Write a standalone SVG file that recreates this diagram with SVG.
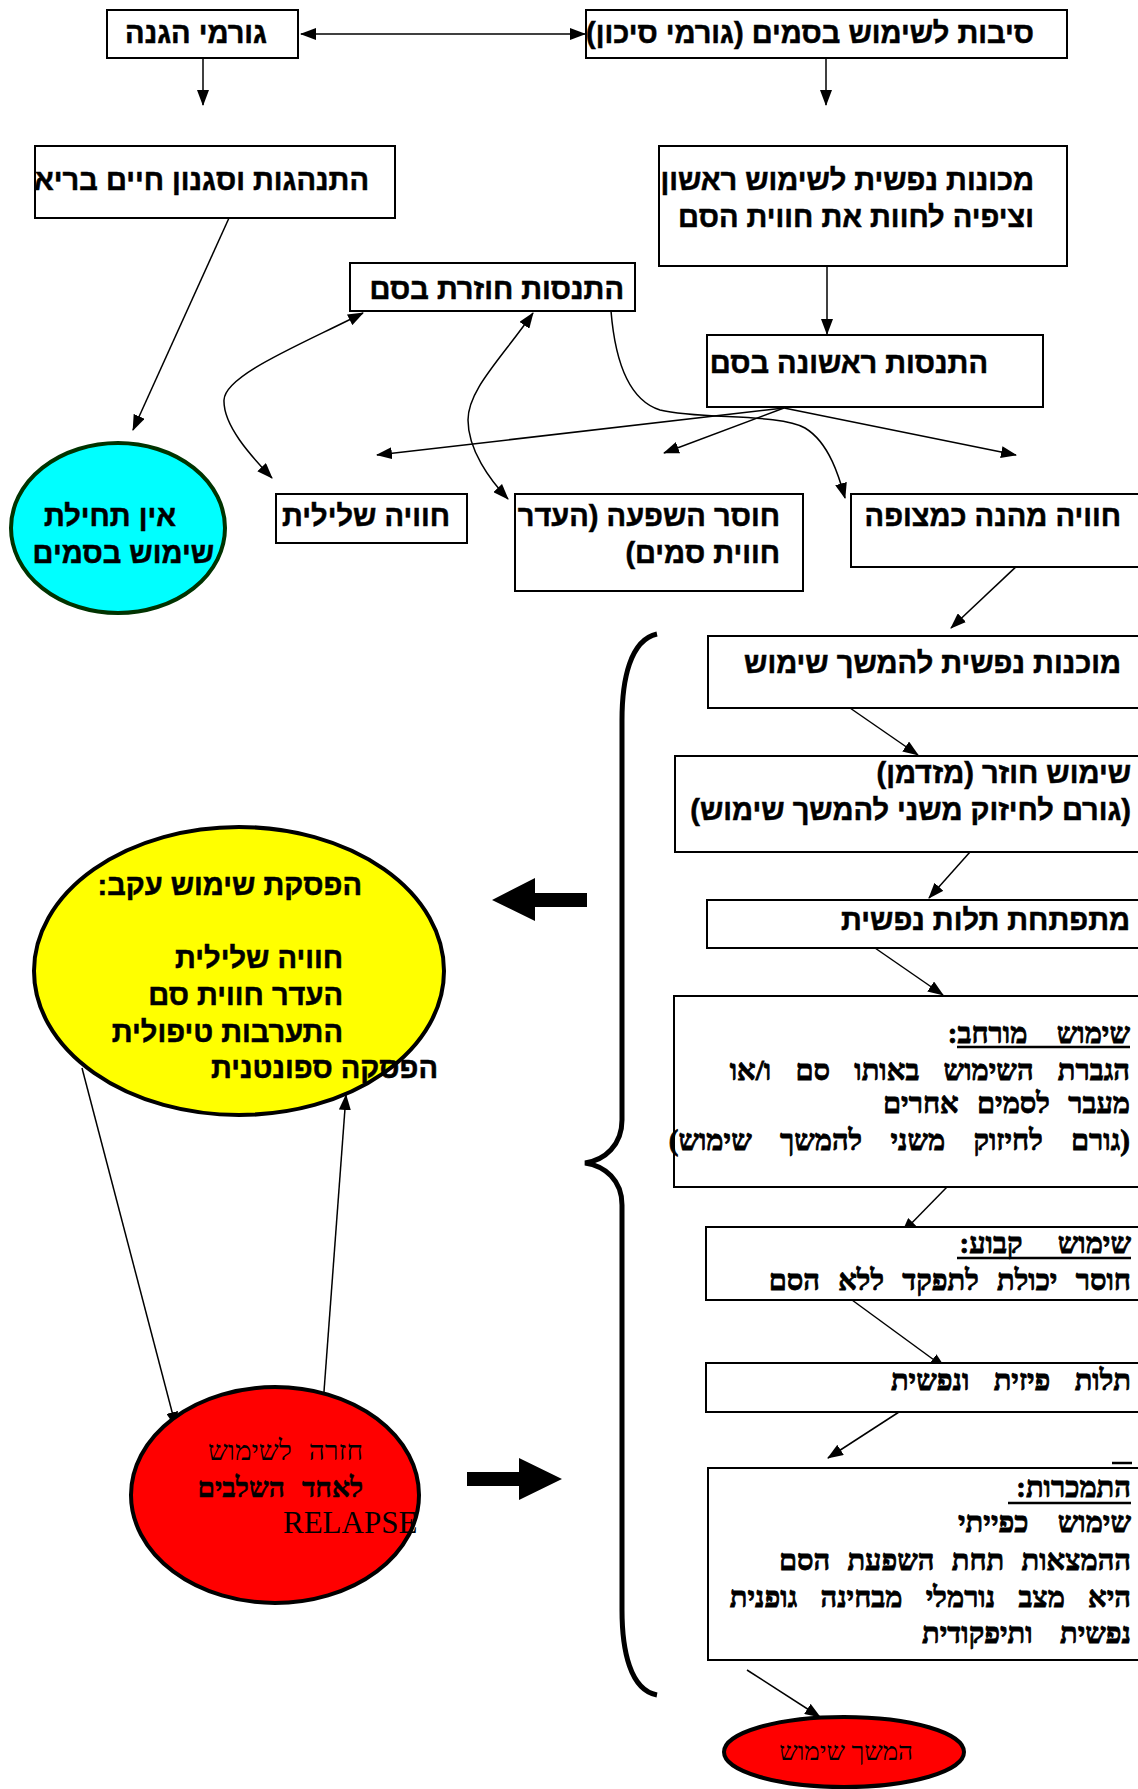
<svg xmlns="http://www.w3.org/2000/svg" width="1138" height="1789" viewBox="0 0 1138 1789">
<style>
.box{fill:#fff;stroke:#000;stroke-width:2}
.t{font-family:"Liberation Sans",Arial,sans-serif;font-weight:bold;font-size:29px;fill:#000;stroke:#000;stroke-width:0.5}
.s{font-family:"Liberation Serif","Times New Roman",serif;font-weight:bold;font-size:29px;fill:#000;stroke:#000;stroke-width:0.8}
.sr{font-family:"Liberation Serif","Times New Roman",serif;font-size:28px;fill:#000;word-spacing:10px}
.c{fill:none;stroke:#000;stroke-width:1.5}
.u{stroke:#000;stroke-width:2.5}
</style>
<defs>
<marker id="ah" markerUnits="userSpaceOnUse" markerWidth="16" markerHeight="12" refX="15" refY="6" orient="auto-start-reverse">
<path d="M0,0 L16,6 L0,12 z" fill="#000"/>
</marker>
</defs>
<rect width="1138" height="1789" fill="#fff"/>

<g id="connectors">
<line class="c" x1="301" y1="34" x2="585" y2="34" marker-start="url(#ah)" marker-end="url(#ah)"/>
<line class="c" x1="203" y1="58" x2="203" y2="105" marker-end="url(#ah)"/>
<line class="c" x1="826" y1="58" x2="826" y2="105" marker-end="url(#ah)"/>
<line class="c" x1="229" y1="218" x2="133" y2="430" marker-end="url(#ah)"/>
<line class="c" x1="827" y1="266" x2="827" y2="334" marker-end="url(#ah)"/>
<line class="c" x1="784" y1="408" x2="377" y2="455" marker-end="url(#ah)"/>
<line class="c" x1="784" y1="408" x2="664" y2="453" marker-end="url(#ah)"/>
<line class="c" x1="784" y1="408" x2="1016" y2="455" marker-end="url(#ah)"/>
<path class="c" d="M363,313 C300,345 225,375 224,400 C223,425 250,455 272,478" marker-start="url(#ah)" marker-end="url(#ah)"/>
<path class="c" d="M533,313 C500,360 468,390 468,420 C468,450 490,480 508,499" marker-start="url(#ah)" marker-end="url(#ah)"/>
<path class="c" d="M611,311 C615,360 628,400 660,410 C700,420 780,413 805,428 C830,443 840,480 845,498" marker-end="url(#ah)"/>
<line class="c" x1="1020" y1="563" x2="951" y2="628" marker-end="url(#ah)"/>
<line class="c" x1="850" y1="708" x2="918" y2="755" marker-end="url(#ah)"/>
<line class="c" x1="970" y1="852" x2="929" y2="898" marker-end="url(#ah)"/>
<line class="c" x1="875" y1="948" x2="943" y2="995" marker-end="url(#ah)"/>
<line class="c" x1="947" y1="1187" x2="902" y2="1233" marker-end="url(#ah)"/>
<line class="c" x1="852" y1="1300" x2="945" y2="1368" marker-end="url(#ah)"/>
<line class="c" x1="899" y1="1412" x2="828" y2="1458" marker-end="url(#ah)"/>
<line class="c" x1="747" y1="1670" x2="820" y2="1717" marker-end="url(#ah)"/>
<line class="c" x1="82" y1="1068" x2="176" y2="1427" marker-end="url(#ah)"/>
<line class="c" x1="323" y1="1405" x2="346" y2="1095" marker-end="url(#ah)"/>
<polygon points="492,900 535,878 535,893 587,893 587,907 535,907 535,921" fill="#000"/>
<polygon points="467,1472 519,1472 519,1458 562,1479 519,1500 519,1486 467,1486" fill="#000"/>
<path d="M657,634 C630,640 622,680 622,720 L622,1120 C622,1145 605,1160 585,1163 C605,1166 622,1180 622,1205 L622,1610 C622,1650 630,1690 657,1695" fill="none" stroke="#000" stroke-width="5"/>
</g>

<g id="n-protect">
<rect class="box" x="107" y="10" width="191" height="48"/>
<text class="t" x="267" y="43" direction="rtl" text-anchor="start">גורמי הגנה</text>
</g>
<g id="n-risk">
<rect class="box" x="586" y="10" width="481" height="48"/>
<text class="t" x="1034" y="43" direction="rtl" text-anchor="start">סיבות לשימוש בסמים (גורמי סיכון)</text>
</g>
<g id="n-healthy">
<rect class="box" x="35" y="146" width="360" height="72"/>
<text class="t" x="369" y="190" direction="rtl" text-anchor="start">התנהגות וסגנון חיים בריא</text>
</g>
<g id="n-readiness">
<rect class="box" x="659" y="146" width="408" height="120"/>
<text class="t" x="1034" y="190" direction="rtl" text-anchor="start">מכונות נפשית לשימוש ראשון</text>
<text class="t" x="1034" y="227" direction="rtl" text-anchor="start">וציפיה לחוות את חווית הסם</text>
</g>
<g id="n-repeat">
<rect class="box" x="350" y="263" width="285" height="48"/>
<text class="t" x="624" y="299" direction="rtl" text-anchor="start">התנסות חוזרת בסם</text>
</g>
<g id="n-first">
<rect class="box" x="707" y="335" width="336" height="72"/>
<text class="t" x="988" y="373" direction="rtl" text-anchor="start">התנסות ראשונה בסם</text>
</g>
<g id="n-negative">
<rect class="box" x="276" y="494" width="191" height="49"/>
<text class="t" x="450" y="526" direction="rtl" text-anchor="start">חוויה שלילית</text>
</g>
<g id="n-noeffect">
<rect class="box" x="515" y="494" width="288" height="97"/>
<text class="t" x="780" y="526" direction="rtl" text-anchor="start">חוסר השפעה (העדר</text>
<text class="t" x="780" y="563" direction="rtl" text-anchor="start">חווית סמים)</text>
</g>
<g id="n-pleasant">
<rect class="box" x="851" y="494" width="300" height="73"/>
<text class="t" x="1121" y="526" direction="rtl" text-anchor="start">חוויה מהנה כמצופה</text>
</g>
<g id="n-nostart">
<ellipse cx="118" cy="528" rx="107" ry="85" fill="#00ffff" stroke="#003300" stroke-width="4"/>
<text class="t" x="176" y="526" direction="rtl" text-anchor="start">אין תחילת</text>
<text class="t" x="214" y="563" direction="rtl" text-anchor="start">שימוש בסמים</text>
</g>
<g id="n-continue-ready">
<rect class="box" x="708" y="636" width="440" height="72"/>
<text class="t" x="1121" y="673" direction="rtl" text-anchor="start">מוכנות נפשית להמשך שימוש</text>
</g>
<g id="n-occasional">
<rect class="box" x="675" y="756" width="473" height="96"/>
<text class="t" x="1131" y="783" direction="rtl" text-anchor="start">שימוש חוזר (מזדמן)</text>
<text class="t" x="1131" y="820" direction="rtl" text-anchor="start">(גורם לחיזוק משני להמשך שימוש)</text>
</g>
<g id="n-psych">
<rect class="box" x="707" y="900" width="441" height="48"/>
<text class="t" x="1130" y="930" direction="rtl" text-anchor="start">מתפתחת תלות נפשית</text>
</g>
<g id="n-extended">
<rect class="box" x="674" y="996" width="474" height="191"/>
<text class="s" x="1130" y="1043" direction="rtl" text-anchor="start" word-spacing="22">שימוש מורחב:</text>
<line class="u" x1="957" y1="1047" x2="1130" y2="1047"/>
<text class="s" x="1130" y="1080" direction="rtl" text-anchor="start" word-spacing="17">הגברת השימוש באותו סם ו/או</text>
<text class="s" x="1130" y="1113" direction="rtl" text-anchor="start" word-spacing="11">מעבר לסמים אחרים</text>
<text class="s" x="1130" y="1150" direction="rtl" text-anchor="start" word-spacing="21">(גורם לחיזוק משני להמשך שימוש)</text>
</g>
<g id="n-regular">
<rect class="box" x="706" y="1227" width="442" height="73"/>
<text class="s" x="1131" y="1253" direction="rtl" text-anchor="start" word-spacing="28">שימוש קבוע:</text>
<line class="u" x1="957" y1="1258" x2="1131" y2="1258"/>
<text class="s" x="1131" y="1290" direction="rtl" text-anchor="start" word-spacing="11">חוסר יכולת לתפקד ללא הסם</text>
</g>
<g id="n-physical">
<rect class="box" x="706" y="1363" width="442" height="49"/>
<text class="s" x="1131" y="1390" direction="rtl" text-anchor="start" word-spacing="17">תלות פיזית ונפשית</text>
</g>
<g id="n-addiction">
<line class="u" x1="1112" y1="1463" x2="1132" y2="1463"/>
<rect class="box" x="708" y="1468" width="440" height="192"/>
<text class="s" x="1131" y="1497" direction="rtl" text-anchor="start">התמכרות:</text>
<line class="u" x1="1008" y1="1503" x2="1131" y2="1503"/>
<text class="s" x="1131" y="1532" direction="rtl" text-anchor="start" word-spacing="22">שימוש כפייתי</text>
<text class="s" x="1131" y="1570" direction="rtl" text-anchor="start" word-spacing="10">ההמצאות תחת השפעת הסם</text>
<text class="s" x="1131" y="1607" direction="rtl" text-anchor="start" word-spacing="16">היא מצב נורמלי מבחינה גופנית</text>
<text class="s" x="1131" y="1643" direction="rtl" text-anchor="start" word-spacing="20">נפשית ותיפקודית</text>
</g>
<g id="n-stop">
<ellipse cx="239" cy="971" rx="205" ry="144" fill="#ffff00" stroke="#000" stroke-width="4"/>
<text class="t" x="362" y="895" direction="rtl" text-anchor="start">הפסקת שימוש עקב:</text>
<text class="t" x="343" y="968" direction="rtl" text-anchor="start">חוויה שלילית</text>
<text class="t" x="343" y="1005" direction="rtl" text-anchor="start">העדר חווית סם</text>
<text class="t" x="343" y="1042" direction="rtl" text-anchor="start">התערבות טיפולית</text>
<text class="t" x="438" y="1078" direction="rtl" text-anchor="start">הפסקה ספונטנית</text>
</g>
<g id="n-relapse">
<ellipse cx="275" cy="1495" rx="144" ry="108" fill="#ff0000" stroke="#000" stroke-width="4"/>
<text class="sr" x="363" y="1460" direction="rtl" text-anchor="start">חזרה לשימוש</text>
<text class="sr" x="363" y="1497" direction="rtl" text-anchor="start" font-weight="bold" stroke="#000" stroke-width="0.6">לאחד השלבים</text>
<text x="283" y="1533" font-family="Liberation Serif, Times New Roman, serif" font-size="31" fill="#000">RELAPSE</text>
</g>
<g id="n-continue">
<ellipse cx="844" cy="1752" rx="120" ry="35" fill="#ff0000" stroke="#000" stroke-width="4"/>
<text x="913" y="1760" direction="rtl" text-anchor="start" font-family="Liberation Serif, Times New Roman, serif" font-size="26" fill="#000">המשך שימוש</text>
</g>
</svg>
